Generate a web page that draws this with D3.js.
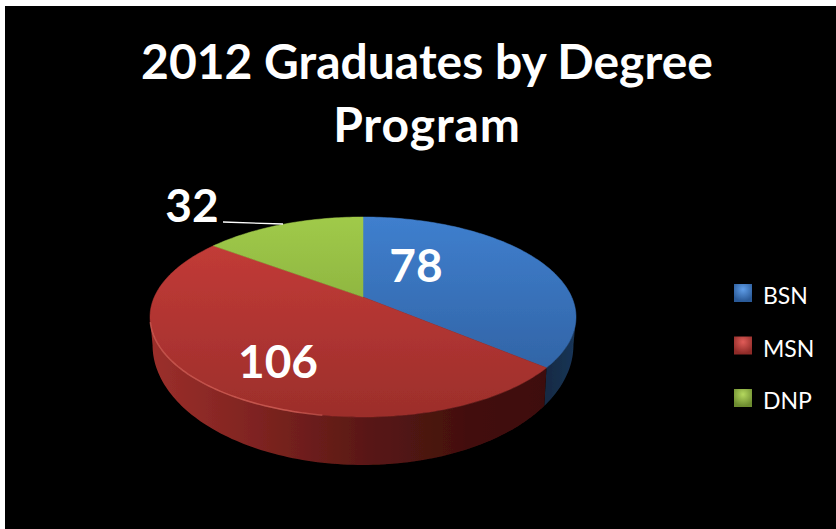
<!DOCTYPE html>
<html>
<head>
<meta charset="utf-8">
<script src="https://cdn.jsdelivr.net/npm/d3@7"></script>
<style>
  html, body { margin: 0; padding: 0; background: #fff; }
  svg { display: block; }
  text { font-family: Lato, "Open Sans", sans-serif; fill: #fff; }
</style>
</head>
<body>
<div id="chart"></div>
<script>
// chart data
var titleLines = ["2012 Graduates by Degree", "Program"];
var categories = ["BSN", "MSN", "DNP"];
var values = [78, 106, 32];

var width = 836, height = 529;

var svg = d3.select("#chart").append("svg")
    .attr("width", width)
    .attr("height", height);

var defs = svg.append("defs");

// black plot background, leaves a small white edge top and left
svg.append("rect")
    .attr("x", 5).attr("y", 6)
    .attr("width", width - 5).attr("height", height - 6)
    .attr("fill", "#000");

svg.selectAll(".title").data(titleLines).enter().append("text")
    .attr("class", "title")
    .attr("x", 427)
    .attr("y", function(d, i) { return 79 + i * 63; })
    .attr("text-anchor", "middle")
    .attr("font-size", 48)
    .attr("font-weight", 700)
    .attr("letter-spacing", function(d, i) { return i * 0.9; })
    .text(function(d) { return d; });

// perspective view of a flat disc: apex sits above the ellipse centre
var k = 0.2, apexX = 363, apexY = 297, radiusX = 208.7, radiusY = 96;

function project(angle) {
    var u = Math.sin(angle), v = Math.cos(angle), w = 1 + k * v;
    return [apexX + radiusX * u / w, apexY - radiusY * v / w];
}

function rim(start, end) {
    var n = Math.max(2, Math.ceil((end - start) / 0.02));
    return d3.range(n + 1).map(function(i) {
        return project(start + (end - start) * i / n);
    });
}

// lower edge of the wall, straight below a point of the rim
function below(p) {
    var o = Math.min(1, Math.abs(p[0] - apexX) / 213);
    return [p[0] - (p[0] - apexX) * 0.012, 345 + 120 * Math.sqrt(1 - o * o)];
}

var line = d3.line();
var slices = d3.pie().sort(null)(values);

// vertical gradients for the top face
var topColors = d3.scaleOrdinal().domain(categories)
    .range([["#3f7fce", "#2d5c9a"], ["#c83d39", "#9c2e2b"], ["#a0ca49", "#779a36"]]);

categories.forEach(function(c) {
    var g = defs.append("linearGradient")
        .attr("id", "top-" + c)
        .attr("gradientUnits", "userSpaceOnUse")
        .attr("x1", 0).attr("y1", 217).attr("x2", 0).attr("y2", 417);
    g.append("stop").attr("offset", 0).attr("stop-color", topColors(c)[0]);
    g.append("stop").attr("offset", 1).attr("stop-color", topColors(c)[1]);
});

// horizontal gradient for the red wall
var wallRed = defs.append("linearGradient")
    .attr("id", "wall-MSN")
    .attr("gradientUnits", "userSpaceOnUse")
    .attr("x1", 150).attr("y1", 0).attr("x2", 545).attr("y2", 0);
[[0, "#9c2f2b"], [0.28, "#7d2320"], [0.55, "#591815"], [0.8, "#43100e"], [1, "#3e0f0d"]].forEach(function(s) {
    wallRed.append("stop").attr("offset", s[0]).attr("stop-color", s[1]);
});

var wallBlue = defs.append("linearGradient")
    .attr("id", "wall-BSN")
    .attr("gradientUnits", "userSpaceOnUse")
    .attr("x1", 540).attr("y1", 0).attr("x2", 576).attr("y2", 0);
wallBlue.append("stop").attr("offset", 0).attr("stop-color", "#132840");
wallBlue.append("stop").attr("offset", 1).attr("stop-color", "#1a3557");

// highlight along the front edge
var edge = defs.append("linearGradient")
    .attr("id", "edge")
    .attr("gradientUnits", "userSpaceOnUse")
    .attr("x1", 150).attr("y1", 0).attr("x2", 400).attr("y2", 0);
edge.append("stop").attr("offset", 0).attr("stop-color", "#e06a60").attr("stop-opacity", 0.6);
edge.append("stop").attr("offset", 0.55).attr("stop-color", "#e06a60").attr("stop-opacity", 0.7);
edge.append("stop").attr("offset", 1).attr("stop-color", "#e06a60").attr("stop-opacity", 0);

var soft = defs.append("filter").attr("id", "soft");
soft.append("feGaussianBlur").attr("stdDeviation", 0.6);

var pie = svg.append("g").attr("filter", "url(#soft)");

// side walls first, rim is widest where cos(angle) = -k
var widest = Math.acos(-k);
var wallAngles = [[widest, slices[0].endAngle], [slices[1].startAngle, 2 * Math.PI - widest]];
wallAngles.forEach(function(a, i) {
    var top = rim(a[0], a[1]);
    var bottom = top.map(below).reverse();
    pie.append("path")
        .attr("d", line(top.concat(bottom)) + "Z")
        .attr("fill", "url(#wall-" + categories[i] + ")");
});

// top faces
slices.forEach(function(s, i) {
    var pts = [[apexX, apexY]].concat(rim(s.startAngle, s.endAngle));
    pie.append("path")
        .attr("d", line(pts) + "Z")
        .attr("fill", "url(#top-" + categories[i] + ")")
        .attr("stroke", "url(#top-" + categories[i] + ")")
        .attr("stroke-width", 0.5);
});

pie.append("path")
    .attr("d", line(rim(Math.PI * 1.05, Math.PI * 1.42)))
    .attr("fill", "none")
    .attr("stroke", "url(#edge)")
    .attr("stroke-width", 1.5);

// value labels
var labelPos = [[416, 282], [278, 378], [192, 222]];
svg.selectAll(".value").data(values).enter().append("text")
    .attr("class", "value")
    .attr("x", function(d, i) { return labelPos[i][0]; })
    .attr("y", function(d, i) { return labelPos[i][1]; })
    .attr("text-anchor", "middle")
    .attr("font-size", 46)
    .attr("font-weight", 700)
    .text(function(d) { return d; });

// leader line for the small slice
svg.append("path")
    .attr("d", line([[223, 222], [283, 224]]))
    .attr("fill", "none")
    .attr("stroke", "#fff")
    .attr("stroke-width", 1.3);

// legend
var legendY = d3.scalePoint().domain(categories).range([293, 398]);
var legendColors = d3.scaleOrdinal().domain(categories)
    .range([["#5f9de8", "#2a5a98"], ["#e05c58", "#8f2b28"], ["#b4d85e", "#6d8c30"]]);

categories.forEach(function(c) {
    var g = defs.append("radialGradient")
        .attr("id", "key-" + c)
        .attr("cx", 0.5).attr("cy", 0.3).attr("r", 0.65);
    g.append("stop").attr("offset", 0).attr("stop-color", legendColors(c)[0]);
    g.append("stop").attr("offset", 1).attr("stop-color", legendColors(c)[1]);
});

var legend = svg.selectAll(".legend").data(categories).enter().append("g")
    .attr("class", "legend")
    .attr("transform", function(d) { return "translate(0," + legendY(d) + ")"; });

legend.append("rect")
    .attr("x", 734).attr("y", -9)
    .attr("width", 18).attr("height", 18)
    .attr("fill", function(d) { return "url(#key-" + d + ")"; });

legend.append("text")
    .attr("x", 763).attr("y", 11)
    .attr("font-size", 23)
    .text(function(d) { return d; });
</script>
</body>
</html>
